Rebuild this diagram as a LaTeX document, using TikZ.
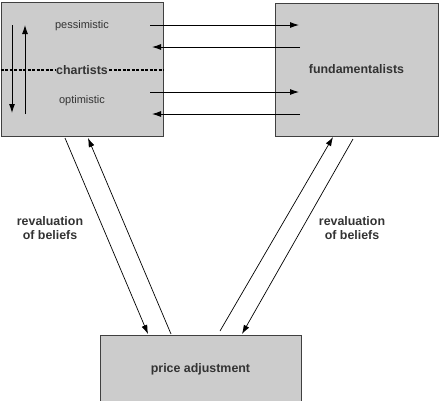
\documentclass[tikz,border=0pt]{standalone}
\usepackage{fontspec}
\setmainfont{Liberation Sans}
\usetikzlibrary{arrows.meta}
\definecolor{boxgray}{HTML}{CCCCCC}
\definecolor{edgegray}{HTML}{404040}
\definecolor{textgray}{HTML}{333333}
\tikzset{
  agentbox/.style={draw=edgegray, fill=boxgray, line width=1pt, inner sep=0pt},
  flow/.style={line width=0.9pt, -{Latex[length=9pt,width=6pt]}},
  belief/.style={line width=0.7pt, -{Latex[length=9pt,width=6pt]}},
  boldlabel/.style={font=\fontsize{12.4}{14}\selectfont\bfseries, text=textgray, align=center},
  smalllabel/.style={font=\fontsize{11}{13}\selectfont, text=textgray},
  splitline/.style={line width=1.2pt, dash pattern=on 3pt off 1.5pt},
}

\begin{document}
\begin{tikzpicture}[x=1pt,y=-1pt]
  \useasboundingbox (0,0) rectangle (441,400);

  % the three boxes
  \node[agentbox, minimum width=162pt, minimum height=134pt] (chart) at (82,69) {};
  \node[agentbox, minimum width=163pt, minimum height=133pt, boldlabel] (fund) at (356.5,69.5) {fundamentalists};
  \node[agentbox, minimum width=201pt, minimum height=75pt, boldlabel] (price) at (200.5,372.5) {};
  \node[boldlabel] (pricelabel) at (200.5,369) {price adjustment};

  % inside the chartists box
  \node[boldlabel, inner sep=1pt] (chartlabel) at (82,70) {chartists};
  \node[smalllabel] (pess) at (82,26) {pessimistic};
  \node[smalllabel] (opt) at (82,101) {optimistic};
  \draw[splitline] (chart.west |- chartlabel) -- (chartlabel.west);
  \draw[splitline] (chartlabel.east) -- (chart.east |- chartlabel);

  \coordinate (downtop) at (12,25);
  \coordinate (downbot) at (12,113);
  \coordinate (uptop) at (25,25);
  \coordinate (upbot) at (25,114);
  \draw[flow] (downtop) -- (downbot);
  \draw[flow] (upbot) -- (uptop);

  % flows between chartists and fundamentalists
  \coordinate (c1) at (150,25);  \coordinate (f1) at (299,25);
  \coordinate (c2) at (152,47);  \coordinate (f2) at (300,47);
  \coordinate (c3) at (150,92);  \coordinate (f3) at (299,92);
  \coordinate (c4) at (152,114); \coordinate (f4) at (300,114);
  \draw[flow] (c1) -- (f1);
  \draw[flow] (f2) -- (c2);
  \draw[flow] (c3) -- (f3);
  \draw[flow] (f4) -- (c4);

  % revaluation of beliefs
  \coordinate (ldown) at (65,138);  \coordinate (ldownend) at (148,334);
  \coordinate (lup) at (171,334);   \coordinate (lupend) at (88,138);
  \coordinate (rup) at (220,331);   \coordinate (rupend) at (333,137);
  \coordinate (rdown) at (353,139); \coordinate (rdownend) at (242,334);
  \draw[belief] (ldown) -- (ldownend);
  \draw[belief] (lup) -- (lupend);
  \draw[belief] (rup) -- (rupend);
  \draw[belief] (rdown) -- (rdownend);

  \node[boldlabel] (leftreval) at (50,228) {revaluation\\of beliefs};
  \node[boldlabel] (rightreval) at (352,228) {revaluation\\of beliefs};
\end{tikzpicture}
\end{document}
